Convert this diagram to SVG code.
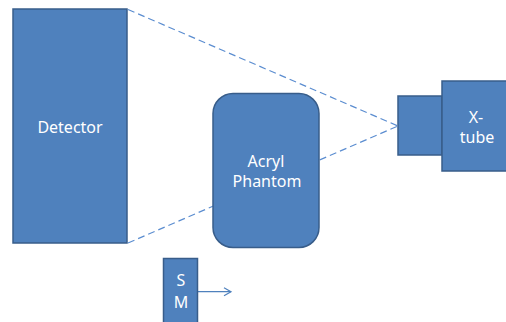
<svg xmlns="http://www.w3.org/2000/svg" width="506" height="322" viewBox="0 0 506 322">
  <style>
    .box { fill: #4f81bd; stroke: #385d8a; stroke-width: 1.5; }
    .lbl { fill: #ffffff; font-family: "Noto Sans", "Open Sans", sans-serif; font-size: 16px; text-anchor: middle; }
    .beam { fill: none; stroke: #5b8dd0; stroke-width: 1.2; stroke-dasharray: 7 4; }
    .mv { fill: none; stroke: #4f81bd; stroke-width: 1.2; }
  </style>
  <defs>
    <marker id="open-arrow" markerWidth="10" markerHeight="10" refX="8" refY="5" orient="auto" markerUnits="userSpaceOnUse">
      <path d="M1,1 L8,5 L1,9" fill="none" stroke="#4f81bd" stroke-width="1.2"/>
    </marker>
  </defs>
  <rect width="506" height="322" fill="#ffffff"/>

  <!-- beam outline and the stage motion arrow, drawn beneath the parts -->
  <g id="connectors">
    <line class="beam" x1="128" y1="9.5" x2="398" y2="126"/>
    <line class="beam" x1="128" y1="243" x2="398" y2="126"/>
    <line class="mv" x1="197.5" y1="291.7" x2="231" y2="291.7" marker-end="url(#open-arrow)"/>
  </g>

  <g id="detector">
    <rect class="box" x="13" y="9" width="114" height="234"/>
    <text class="lbl" x="70" y="133">Detector</text>
  </g>

  <g id="phantom">
    <rect class="box" x="213" y="93.5" width="106" height="154" rx="20" ry="20"/>
    <text class="lbl" x="266" y="167">Acryl</text>
    <text class="lbl" x="267" y="187">Phantom</text>
  </g>

  <g id="collimator">
    <rect class="box" x="398" y="96" width="44" height="59"/>
  </g>

  <g id="xtube">
    <rect class="box" x="442" y="81" width="70" height="90"/>
    <text class="lbl" x="476" y="123">X-</text>
    <text class="lbl" x="477" y="143">tube</text>
  </g>

  <g id="sm">
    <rect class="box" x="163.5" y="258.5" width="34" height="70"/>
    <text class="lbl" x="181" y="286">S</text>
    <text class="lbl" x="181" y="308">M</text>
  </g>
</svg>
